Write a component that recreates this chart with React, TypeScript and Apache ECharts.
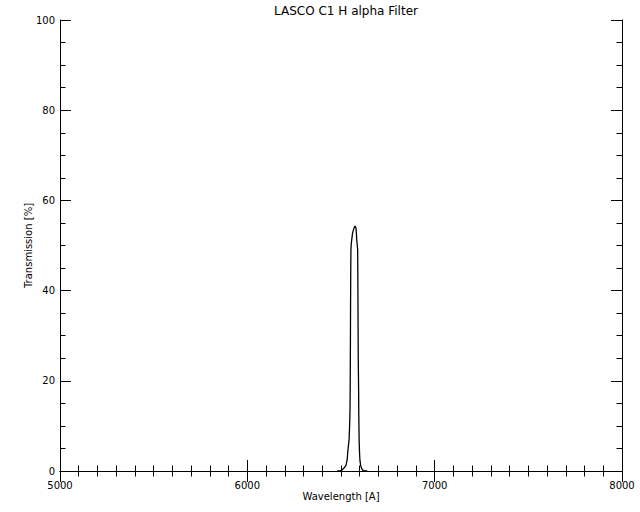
import React, { useEffect, useRef } from "react";
import * as echarts from "echarts";

const titleText = "LASCO C1 H alpha Filter";
const xName = "Wavelength [A]";
const yName = "Transmission [%]";

const wavelengths = [
  6480, 6495, 6505, 6515, 6527, 6533, 6536, 6540, 6543, 6546, 6548, 6549, 6550,
  6551, 6552, 6553, 6555, 6557, 6560, 6562, 6566, 6570, 6575, 6578, 6580, 6582,
  6584, 6587, 6589, 6590, 6592, 6594, 6595, 6597, 6599, 6601, 6605, 6610, 6616,
  6625, 6640,
];
const transmission = [
  0, 0, 0.2, 0.6, 1.3, 2.5, 4.2, 5.8, 6.9, 10, 13.5, 18.4, 26, 36.4, 44, 49,
  50.5, 51.2, 52.2, 52.8, 53.4, 53.9, 54.3, 54.1, 53.9, 52.8, 51.2, 50, 49, 42,
  25.3, 18, 12, 6.4, 4, 2.4, 1.2, 0.6, 0.2, 0, 0,
];

const FONT = "DejaVu Sans";

export default function App() {
  const ref = useRef<HTMLDivElement>(null);
  useEffect(() => {
    if (!ref.current) return;
    const chart = echarts.init(ref.current, undefined, { renderer: "svg" });
    const axisCommon = {
      type: "value" as const,
      axisLine: { show: true, lineStyle: { color: "#000", width: 1 } },
      axisTick: { show: true, inside: true, length: 11, lineStyle: { color: "#000" } },
      splitLine: { show: false },
    };
    const plain = (v: number) => String(v);
    chart.setOption({
      animation: false,
      backgroundColor: "#fff",
      title: {
        text: titleText,
        left: 341,
        textAlign: "center",
        top: 0,
        textStyle: { fontFamily: FONT, fontSize: 12, fontWeight: "normal", color: "#000" },
      },
      grid: { left: 60, top: 20, right: 18, bottom: 41 },
      xAxis: [
        {
          ...axisCommon,
          position: "bottom",
          min: 5000,
          max: 8000,
          interval: 1000,
          minorTick: { show: true, splitNumber: 10, length: 5.5, lineStyle: { color: "#000" } },
          axisLabel: { fontFamily: FONT, fontSize: 10, color: "#000", margin: 9, formatter: plain },
          name: xName,
          nameLocation: "middle",
          nameGap: 20,
          nameMoveOverlap: false,
          nameTextStyle: { fontFamily: FONT, fontSize: 10, color: "#000" },
        },
        {
          ...axisCommon,
          position: "top",
          min: 5000,
          max: 8000,
          interval: 1000,
          minorTick: { show: true, splitNumber: 10, length: 5.5, lineStyle: { color: "#000" } },
          axisLabel: { show: false },
        },
      ],
      yAxis: [
        {
          ...axisCommon,
          position: "left",
          min: 0,
          max: 100,
          interval: 20,
          minorTick: { show: true, splitNumber: 4, length: 5.5, lineStyle: { color: "#000" } },
          axisLabel: { fontFamily: FONT, fontSize: 10, color: "#000", margin: 5, formatter: plain },
          name: yName,
          nameLocation: "middle",
          nameGap: 27,
          nameMoveOverlap: false,
          nameTextStyle: { fontFamily: FONT, fontSize: 10, color: "#000" },
        },
        {
          ...axisCommon,
          position: "right",
          min: 0,
          max: 100,
          interval: 20,
          minorTick: { show: true, splitNumber: 4, length: 5.5, lineStyle: { color: "#000" } },
          axisLabel: { show: false },
        },
      ],
      series: [
        {
          type: "line",
          data: wavelengths.map((w, i) => [w, transmission[i]]),
          showSymbol: false,
          symbol: "none",
          lineStyle: { color: "#000", width: 1.3 },
          xAxisIndex: 0,
          yAxisIndex: 0,
        },
      ],
    });
    return () => chart.dispose();
  }, []);
  return (
    <div
      ref={ref}
      style={{ position: "fixed", left: 0, top: 0, width: 640, height: 512 }}
    />
  );
}
